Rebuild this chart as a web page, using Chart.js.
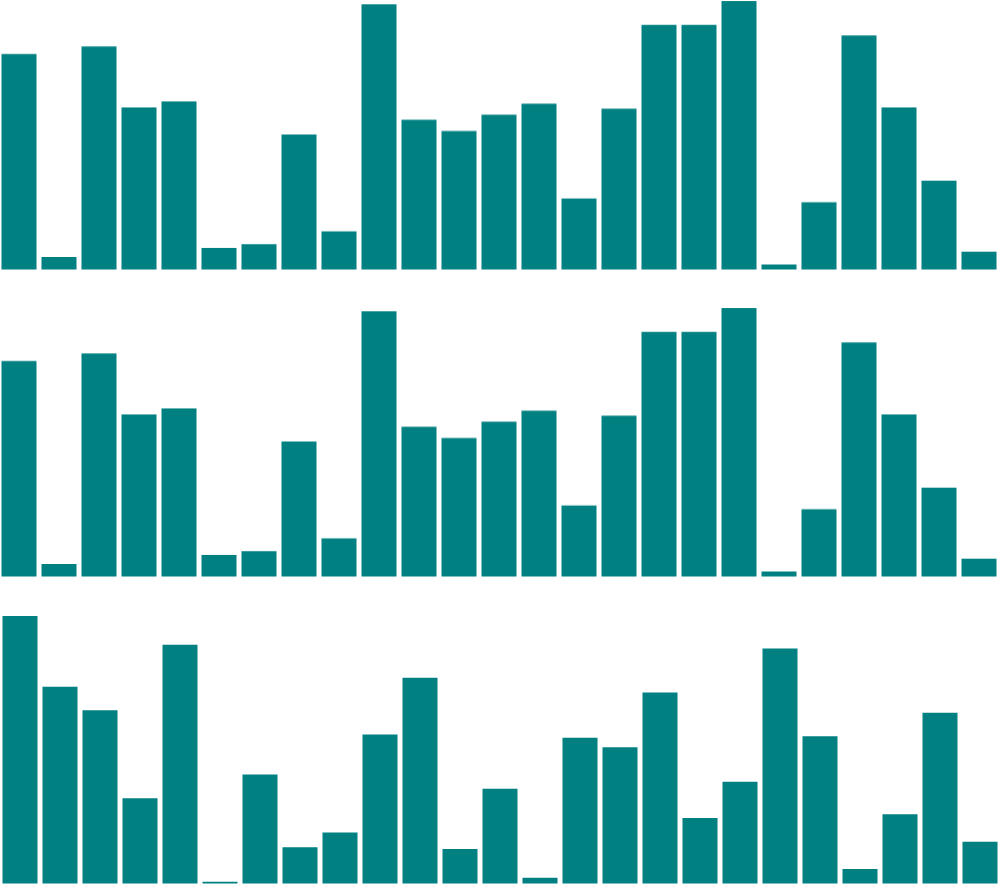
<!DOCTYPE html>
<html>
<head>
<meta charset="utf-8">
<script src="https://cdn.jsdelivr.net/npm/chart.js@4/dist/chart.umd.min.js"></script>
<style>
    html, body { margin: 0; padding: 0; background: #fff; overflow: hidden; }
    body { width: 1000px; height: 884px; position: relative; }
    .box { position: absolute; width: 1000px; height: 269.6px; }
    #box1 { left: -1.5px; top: 0px; }
    #box2 { left: -1.5px; top: 307.3px; }
    #box3 { left: -0.5px; top: 614.6px; }
</style>
</head>
<body>
<div class="box" id="box1"><canvas id="chart1"></canvas></div>
<div class="box" id="box2"><canvas id="chart2"></canvas></div>
<div class="box" id="box3"><canvas id="chart3"></canvas></div>
<script>
let labels = [];
for (let i = 1; i <= 25; i++) labels.push('B' + i);

// top two rows show the same values
let topValues = [80.4, 5.4, 83.2, 60.7, 62.9, 8.8, 10.1, 50.7, 14.9, 98.8,
                 56.1, 52.0, 58.0, 62.1, 27.0, 60.2, 91.2, 91.2, 100, 2.6,
                 25.6, 87.3, 60.7, 33.6, 7.4];
let bottomValues = [100, 73.8, 65.0, 32.4, 89.3, 1.4, 41.2, 14.2, 19.7, 56.0,
                    77.1, 13.6, 35.9, 2.9, 54.8, 51.3, 71.6, 25.1, 38.5, 87.9,
                    55.4, 6.2, 26.5, 64.1, 16.3];

function makeChart(id, values) {
    const ctx = document.getElementById(id).getContext('2d');
    return new Chart(ctx, {
        type: 'bar',
        data: {
            labels: labels,
            datasets: [{
                data: values,
                backgroundColor: '#008080',
                borderColor: 'rgba(255,255,255,0.5)',
                borderWidth: 1,
                borderSkipped: false,
                barPercentage: 0.925,
                categoryPercentage: 1
            }]
        },
        options: {
            responsive: true,
            maintainAspectRatio: false,
            animation: false,
            layout: { padding: 0 },
            plugins: {
                legend: { display: false },
                tooltip: { enabled: false }
            },
            scales: {
                x: { display: false },
                y: { display: false, min: 0, max: 100 }
            }
        }
    });
}

makeChart('chart1', topValues);
makeChart('chart2', topValues);
makeChart('chart3', bottomValues);
</script>
</body>
</html>
